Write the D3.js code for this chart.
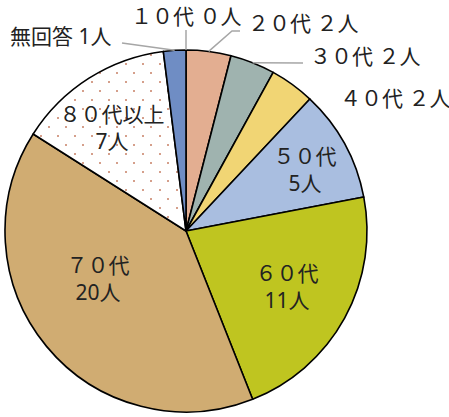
<!DOCTYPE html>
<html lang="ja">
<head>
<meta charset="utf-8">
<script src="https://cdn.jsdelivr.net/npm/d3@7"></script>
<style>
  body { margin: 0; background: #fff; }
  svg { display: block; }
  text { font-family: "Noto Sans", "Noto Sans CJK JP", sans-serif; fill: #222; }
</style>
</head>
<body>
<svg id="pie" width="449" height="417"></svg>
<script>
// data
const ages = ["１０代", "２０代", "３０代", "４０代", "５０代", "６０代", "７０代", "８０代以上", "無回答"];
const counts = [0, 2, 2, 2, 5, 11, 20, 7, 1];
const countLabels = ["０人", "２人", "２人", "２人", "5人", "11人", "20人", "7人", "1人"];
const colors = ["#E3AE91", "#E3AE91", "#9FB3AF", "#F1D574", "#A9BEE0", "#BFC520", "#D0AC72", "url(#dots)", "#6F8DC4"];

// label layout: outside labels are [x, y, leader points], inside ones sit at a fixed spot
const outside = {
    0: { x: 131, y: 17, line: [[186, 30]] },
    1: { x: 248, y: 24, line: [[232, 31], [240, 31]] },
    2: { x: 310, y: 57, line: [[303, 63]] },
    3: { x: 340, y: 99, line: null },
    8: { x: 10, y: 37, line: [[122, 43]] }
};
const inside = {
    4: [305, 157, 184],
    5: [287, 274, 301],
    6: [98, 266, 293],
    7: [112, 115, 142]
};

const svg = d3.select("#pie"),
    cx = 186, cy = 231, radius = 181,
    fontSize = "21px";

const defs = svg.append("defs");
const pat = defs.append("pattern")
    .attr("id", "dots")
    .attr("patternUnits", "userSpaceOnUse")
    .attr("x", 75).attr("y", 156)
    .attr("width", 17).attr("height", 18);
pat.append("rect").attr("width", 17).attr("height", 18).attr("fill", "#fff");
pat.append("rect").attr("x", 0).attr("y", 0).attr("width", 2).attr("height", 2).attr("fill", "#D59F8B");
pat.append("rect").attr("x", 8).attr("y", 9).attr("width", 2).attr("height", 2).attr("fill", "#D59F8B");

const pie = d3.pie().sort(null).value(d => d)(counts);
const arc = d3.arc().innerRadius(0).outerRadius(radius);

const g = svg.append("g").attr("transform", `translate(${cx},${cy})`);

g.selectAll("path.slice")
    .data(pie)
    .enter()
    .append("path")
    .attr("class", "slice")
    .attr("d", arc)
    .attr("fill", (d, i) => colors[i])
    .attr("stroke", "#000")
    .attr("stroke-width", 1.6)
    .attr("stroke-linejoin", "round");

// leader lines
const lines = svg.append("g");
Object.keys(outside).forEach(k => {
    const o = outside[k];
    if (!o.line) return;
    const d = pie[k];
    const a = (d.startAngle + d.endAngle) / 2;
    const start = [cx + radius * Math.sin(a), cy - radius * Math.cos(a)];
    lines.append("path")
        .attr("d", d3.line()([start, ...o.line]))
        .attr("fill", "none")
        .attr("stroke", "#A6A6A6")
        .attr("stroke-width", 1.5);
});

// outside labels
Object.keys(outside).forEach(k => {
    const o = outside[k];
    svg.append("text")
        .attr("x", o.x)
        .attr("y", o.y + 7)
        .style("font-size", fontSize)
        .text(ages[k] + " " + countLabels[k]);
});

// inside labels, two lines each
Object.keys(inside).forEach(k => {
    const p = inside[k];
    const t = svg.append("text").attr("text-anchor", "middle").style("font-size", fontSize);
    t.append("tspan").attr("x", p[0]).attr("y", p[1] + 7).text(ages[k]);
    t.append("tspan").attr("x", p[0]).attr("y", p[2] + 7).text(countLabels[k]);
});
</script>
</body>
</html>
